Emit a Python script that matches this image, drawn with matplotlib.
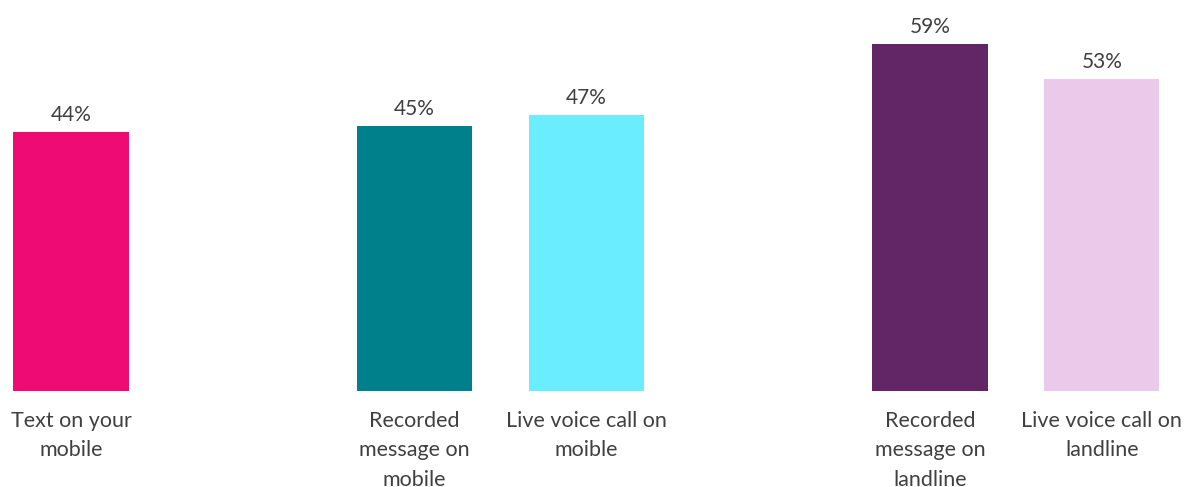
import matplotlib
matplotlib.use("Agg")
import matplotlib.pyplot as plt

# data
positions = [0, 2, 3, 5, 6]
labels = ["Text on your\nmobile", "Recorded\nmessage on\nmobile", "Live voice call on\nmoible",
          "Recorded\nmessage on\nlandline", "Live voice call on\nlandline"]
values = [44, 45, 47, 59, 53]
colors = ["#EE0B73", "#00808B", "#6AEEFF", "#622566", "#EBC9EA"]

plt.rcParams['font.family'] = ['Lato', 'DejaVu Sans']
txt = "#404040"

fig = plt.figure(figsize=(11.86, 4.87), dpi=100)
ax = fig.add_axes([0, 0.197, 1, 0.803])

ax.bar(positions, values, width=0.67, color=colors)
for p, v in zip(positions, values):
    ax.text(p, v + 1.2, f"{v}%", ha="center", va="bottom", fontsize=15, color=txt)

ax.set_xlim(-0.413, 6.49)
ax.set_ylim(0, 66.5)
ax.set_xticks(positions)
ax.set_xticklabels(labels, fontsize=15.5, color=txt, va="top", linespacing=1.6)
ax.tick_params(axis="x", length=0, pad=14)
ax.set_yticks([])
for s in ax.spines.values():
    s.set_visible(False)

fig.savefig("out.png", dpi=100)
